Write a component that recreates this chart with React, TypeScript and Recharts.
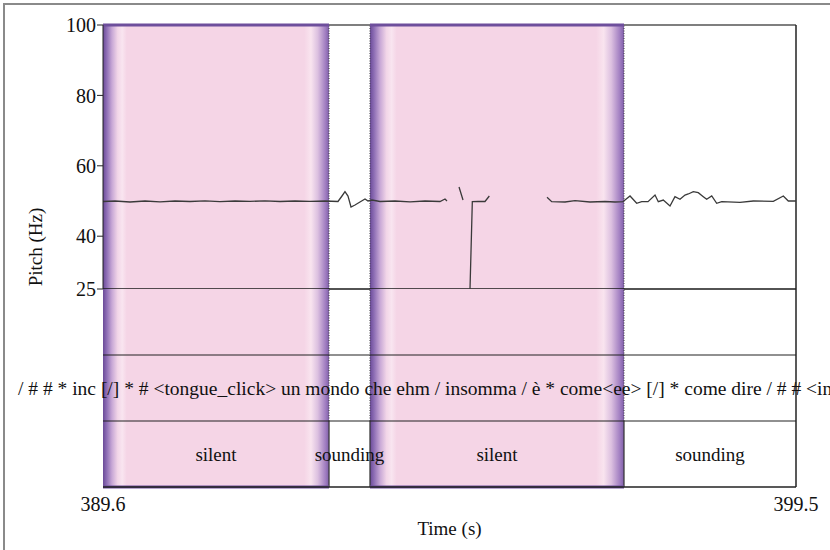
import React from 'react';
import {
  ComposedChart,
  Line,
  XAxis,
  YAxis,
  ReferenceArea,
  ReferenceLine,
  Label,
} from 'recharts';

const FONT = '"Liberation Serif", "Times New Roman", Times, serif';

const TIME_DOMAIN: [number, number] = [389.6, 399.5];
const TIME_TICKS = [389.6, 399.5];
const PITCH_DOMAIN: [number, number] = [25, 100];
const PITCH_TICKS = [25, 40, 60, 80, 100];

const pitchTimes = [
  389.6, 389.771, 389.986, 390.2, 390.414, 390.629, 390.843, 391.057, 391.271, 391.486,
  391.7, 391.914, 392.129, 392.343, 392.557, 392.771, 392.957, 393.014, 393.057, 393.1,
  393.143, 393.2, 393.271, 393.343, 393.386, 393.443, 393.557, 393.771, 393.986, 394.2,
  394.414, 394.486, 394.514,
  394.6,
  394.686, 394.743,
  394.79,
  394.843, 394.876, 394.957, 395.057, 395.119,
  395.5,
  395.943, 396.01, 396.2, 396.343, 396.557, 396.771, 396.914, 397.029, 397.057, 397.129,
  397.224, 397.296, 397.386, 397.486, 397.533, 397.604, 397.7, 397.771, 397.843, 397.914,
  397.961, 398.033, 398.104, 398.176, 398.224, 398.296, 398.367, 398.439, 398.7, 398.89,
  399.176, 399.319, 399.39, 399.5,
];

const pitchHz: (number | null)[] = [
  49.86, 50.0, 49.72, 50.0, 49.77, 50.0, 49.86, 50.06, 49.83, 50.0,
  49.89, 50.06, 49.86, 50.0, 49.89, 50.0, 49.86, 51.42, 52.64, 51.42,
  48.3, 48.86, 49.72, 50.57, 50.0, 50.28, 49.86, 50.0, 49.77, 50.0,
  49.86, 50.57, 50.0,
  null,
  53.98, 50.28,
  null,
  25, 49.8, 49.86, 49.86, 51.42,
  null,
  51.05, 49.8, 49.72, 50.09, 49.72, 49.86, 49.72, 49.8, 50.28, 51.42,
  49.35, 49.8, 49.8, 51.7, 49.8, 50.28, 48.58, 51.22, 50.48, 51.7,
  51.99, 52.64, 52.36, 51.22, 50.48, 51.42, 49.35, 49.8, 49.63, 50.0,
  49.92, 51.42, 50.0, 50.0,
];

const intervalStarts = [389.6, 392.829, 393.414, 397.043];
const intervalEnds = [392.829, 393.414, 397.043, 399.5];
const intervalLabels = ['silent', 'sounding', 'silent', 'sounding'];

const transcriptStart = 388.386;
const transcript =
  '/ # # * inc [/] * # <tongue_click> un mondo che ehm / insomma / è * come<ee> [/] * come dire / # # <in';

const PINK = '#f5d5e6';
const PURPLE = '#6e4f9c';

function Gradient({ id }: { id: string }) {
  return (
    <defs>
      <linearGradient id={id} x1="0" y1="0" x2="1" y2="0">
        <stop offset="0%" stopColor="#6a4a98" />
        <stop offset="1.5%" stopColor="#8b6bb3" />
        <stop offset="4%" stopColor="#c8a8d6" />
        <stop offset="6.5%" stopColor="#f2d6e8" />
        <stop offset="8.5%" stopColor="#f9e5f0" />
        <stop offset="10.5%" stopColor={PINK} />
        <stop offset="89%" stopColor={PINK} />
        <stop offset="92%" stopColor="#f9e4ef" />
        <stop offset="95%" stopColor="#dcc0e0" />
        <stop offset="98.5%" stopColor="#9f7cc0" />
        <stop offset="100%" stopColor="#7f5fa8" />
      </linearGradient>
    </defs>
  );
}

export default function App() {
  const data = pitchTimes.map((t, i) => ({ t, hz: pitchHz[i] }));
  const intervals = intervalStarts.map((s, i) => ({
    s,
    e: intervalEnds[i],
    label: intervalLabels[i],
  }));
  const silent = intervals.filter((d) => d.label === 'silent');
  const boundaries = intervalStarts.slice(1);

  const tickStyle = { fontSize: 20, fill: '#111', fontFamily: FONT };

  return (
    <div
      style={{
        position: 'absolute',
        left: 0,
        top: 0,
        width: 830,
        height: 550,
        background: '#fff',
        overflow: 'hidden',
      }}
    >
      <div
        style={{
          position: 'absolute',
          left: 3,
          top: 3,
          width: 840,
          height: 560,
          borderTop: '2px solid #8a8a8a',
          borderLeft: '2px solid #8a8a8a',
        }}
      />
      <div style={{ position: 'absolute', left: 0, top: 0 }}>
        <ComposedChart
          width={830}
          height={309}
          data={data}
          margin={{ top: 25, right: 34, bottom: 20, left: 43 }}
        >
          <Gradient id="pinkGradTop" />
          <XAxis type="number" dataKey="t" domain={TIME_DOMAIN} hide allowDataOverflow />
          <YAxis
            type="number"
            domain={PITCH_DOMAIN}
            ticks={PITCH_TICKS}
            width={60}
            tickSize={6}
            tickMargin={1}
            interval={0}
            allowDataOverflow
            tick={tickStyle}
            axisLine={{ stroke: '#222' }}
            tickLine={{ stroke: '#222' }}
          >
            <Label
              content={() => (
                <text
                  x={35}
                  y={247}
                  transform="rotate(-90, 35, 247)"
                  textAnchor="middle"
                  dominantBaseline="central"
                  style={{ fontSize: 19, fontFamily: FONT, fill: '#111' }}
                >
                  Pitch (Hz)
                </text>
              )}
            />
          </YAxis>
          {silent.map((d, i) => (
            <ReferenceArea
              key={'pt' + i}
              x1={d.s}
              x2={d.e}
              fill="url(#pinkGradTop)"
              fillOpacity={1}
              stroke="none"
            />
          ))}
          {boundaries.map((b, i) => (
            <ReferenceLine
              key={'bt' + i}
              x={b}
              stroke="#444"
              strokeWidth={1}
              strokeDasharray="1 1.5"
            />
          ))}
          <ReferenceLine y={100} stroke="#555" strokeWidth={1.5} />
          {silent.map((d, i) => (
            <ReferenceLine
              key={'cap' + i}
              segment={[
                { x: d.s, y: 100 },
                { x: d.e, y: 100 },
              ]}
              stroke={PURPLE}
              strokeWidth={3}
            />
          ))}
          <ReferenceLine y={25} stroke="#1a1a1a" strokeWidth={1.3} />
          <ReferenceLine x={399.5} stroke="#222" strokeWidth={1.5} />
          <Line
            type="linear"
            dataKey="hz"
            stroke="#3a3a3a"
            strokeWidth={1.3}
            dot={false}
            activeDot={false}
            connectNulls={false}
            isAnimationActive={false}
          />
        </ComposedChart>
      </div>
      <div style={{ position: 'absolute', left: 0, top: 289 }}>
        <ComposedChart
          width={830}
          height={261}
          data={data}
          margin={{ top: 0, right: 34, bottom: 15, left: 103 }}
        >
          <Gradient id="pinkGradBottom" />
          <XAxis
            type="number"
            dataKey="t"
            domain={TIME_DOMAIN}
            ticks={TIME_TICKS}
            interval={0}
            allowDataOverflow
            height={48}
            tickLine={false}
            tickSize={6}
            tickMargin={4}
            tickFormatter={(v: number) => v.toFixed(1)}
            tick={tickStyle}
            axisLine={{ stroke: '#222', strokeWidth: 1.5 }}
          >
            <Label
              value="Time (s)"
              position="insideBottom"
              offset={0}
              style={{ fontSize: 19, fontFamily: FONT, fill: '#111' }}
            />
          </XAxis>
          <YAxis type="number" domain={[0, 3]} hide allowDataOverflow />
          {silent.map((d, i) => (
            <ReferenceArea
              key={'pb' + i}
              x1={d.s}
              x2={d.e}
              y1={0}
              y2={3}
              fill="url(#pinkGradBottom)"
              fillOpacity={1}
              stroke="none"
            />
          ))}
          {boundaries.map((b, i) => (
            <ReferenceLine
              key={'bd' + i}
              segment={[
                { x: b, y: 1 },
                { x: b, y: 3 },
              ]}
              stroke="#444"
              strokeWidth={1}
              strokeDasharray="1 1.5"
            />
          ))}
          {boundaries.map((b, i) => (
            <ReferenceLine
              key={'bs' + i}
              segment={[
                { x: b, y: 0 },
                { x: b, y: 1 },
              ]}
              stroke="#333"
              strokeWidth={1.2}
            />
          ))}
          <ReferenceLine y={2} stroke="#222" strokeWidth={1.2} />
          <ReferenceLine y={1} stroke="#222" strokeWidth={1.2} />
          <ReferenceLine x={399.5} stroke="#222" strokeWidth={1.5} />
          {silent.map((d, i) => (
            <ReferenceLine
              key={'capb' + i}
              segment={[
                { x: d.s, y: 0 },
                { x: d.e, y: 0 },
              ]}
              stroke={PURPLE}
              strokeWidth={3}
            />
          ))}
          <ReferenceArea
            x1={transcriptStart}
            x2={TIME_DOMAIN[1]}
            y1={1}
            y2={2}
            ifOverflow="visible"
            fill="none"
            stroke="none"
            label={{
              value: transcript,
              position: 'insideLeft',
              offset: 0,
              fill: '#111',
              fontSize: 19.5,
              fontFamily: FONT,
            }}
          />
          {intervals.map((d, i) => (
            <ReferenceArea
              key={'lab' + i}
              x1={d.s}
              x2={d.e}
              y1={0}
              y2={1}
              fill="none"
              stroke="none"
              label={{
                value: d.label,
                position: 'center',
                fill: '#111',
                fontSize: 19,
                fontFamily: FONT,
              }}
            />
          ))}
        </ComposedChart>
      </div>
    </div>
  );
}
